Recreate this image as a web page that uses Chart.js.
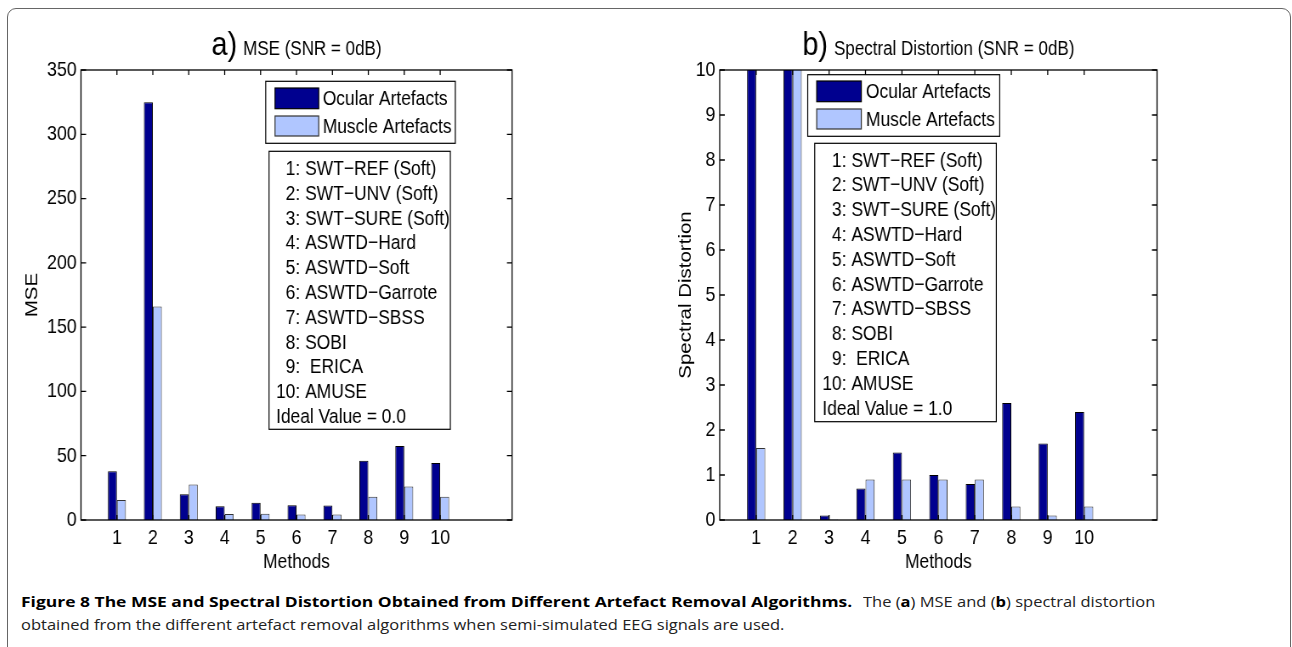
<!DOCTYPE html>
<html>
<head>
<meta charset="utf-8">
<script src="https://cdn.jsdelivr.net/npm/chart.js@4.4.0/dist/chart.umd.min.js"></script>
<style>
  body { margin: 0; background: #fff; width: 1292px; height: 647px; overflow: hidden; position: relative; }
  .frame { position: absolute; left: 7px; top: 8px; width: 1282px; height: 700px; border: 1.5px solid #666; border-radius: 9px; }
  .plot { position: absolute; top: 20px; height: 570px; transform: scaleX(0.85); transform-origin: 0 0; }
  #boxA { left: 10px; width: 741px; }
  #boxB { left: 650px; width: 752px; }
  .cap { position: absolute; font-family: "Open Sans", sans-serif; font-size: 15px; line-height: 20px; white-space: nowrap; transform-origin: 0 0; color: #222; }
  .cap b, b.cap { color: #000; }
</style>
</head>
<body>
<div class="frame"></div>
<div class="plot" id="boxA"><canvas id="mseChart"></canvas></div>
<div class="plot" id="boxB"><canvas id="sdChart"></canvas></div>
<b class="cap" id="capBold" style="left:21px;top:591px">Figure 8 The MSE and Spectral Distortion Obtained from Different Artefact Removal Algorithms.</b>
<div class="cap" id="capRest" style="left:863px;top:591px">The (<b>a</b>) MSE and (<b>b</b>) spectral distortion</div>
<div class="cap" id="cap2" style="left:21px;top:614px">obtained from the different artefact removal algorithms when semi-simulated EEG signals are used.</div>
<span class="cap" id="probe" style="left:0;top:-100px">obtained from the different artef</span>
<script>
// data
const categories = ["1", "2", "3", "4", "5", "6", "7", "8", "9", "10"];
const methodNames = [
    "SWT\u2212REF (Soft)",
    "SWT\u2212UNV (Soft)",
    "SWT\u2212SURE (Soft)",
    "ASWTD\u2212Hard",
    "ASWTD\u2212Soft",
    "ASWTD\u2212Garrote",
    "ASWTD\u2212SBSS",
    "SOBI",
    " ERICA",
    "AMUSE"
];
const seriesNames = ["Ocular Artefacts", "Muscle Artefacts"];
const mseOcular = [38, 325, 20, 10.6, 13.5, 11.4, 11.2, 46, 57.5, 44.3];
const mseMuscle = [15.5, 166, 27.7, 4.7, 4.9, 4.2, 4.2, 18, 26, 18];
const sdOcular = [11.5, 11, 0.1, 0.7, 1.5, 1.0, 0.8, 2.6, 1.7, 2.4];
const sdMuscle = [1.6, 10.8, 0.01, 0.9, 0.9, 0.9, 0.9, 0.3, 0.1, 0.3];
const mseTicks = [0, 50, 100, 150, 200, 250, 300, 350];
const sdTicks = [0, 1, 2, 3, 4, 5, 6, 7, 8, 9, 10];

const S = 0.85;
const FONT = '"Liberation Sans", Arial, Helvetica, sans-serif';
const DARK = "#00008F";
const LIGHT = "#B0C6FF";
Chart.defaults.font.family = FONT;
Chart.defaults.color = "#000";

const decor = {
    id: "decor",
    afterDraw(chart, args, o) {
        const ctx = chart.ctx;
        const a = chart.chartArea;
        const X = v => (v - o.x0) / S;
        const Y = v => v - 20;
        const xs = chart.scales.x, ys = chart.scales.y;
        ctx.save();

        // axes box + inward ticks
        ctx.strokeStyle = "#000";
        ctx.lineWidth = 1.3;
        ctx.strokeRect(a.left, a.top, a.right - a.left, a.bottom - a.top);
        ctx.beginPath();
        categories.forEach((c, i) => {
            const px = xs.getPixelForValue(i + 1);
            ctx.moveTo(px, a.bottom); ctx.lineTo(px, a.bottom - 5);
            ctx.moveTo(px, a.top); ctx.lineTo(px, a.top + 5);
        });
        ys.ticks.forEach(t => {
            const py = ys.getPixelForValue(t.value);
            ctx.moveTo(a.left, py); ctx.lineTo(a.left + 6, py);
            ctx.moveTo(a.right, py); ctx.lineTo(a.right - 6, py);
        });
        ctx.stroke();

        // title with big panel letter
        ctx.fillStyle = "#000";
        ctx.textBaseline = "alphabetic";
        ctx.textAlign = "left";
        const big = "34px " + FONT, small = "20px " + FONT;
        ctx.font = big;
        const w1 = ctx.measureText(o.letter).width;
        ctx.font = small;
        const w2 = ctx.measureText(o.title).width;
        const gap = 7;
        const tx = (a.left + a.right) / 2 - (w1 + gap + w2) / 2;
        ctx.font = big;
        ctx.fillText(o.letter, tx, Y(55));
        ctx.font = small;
        ctx.fillText(o.title, tx + w1 + gap, Y(55));

        // legend box
        const L = o.legend;
        ctx.lineWidth = 1.2;
        ctx.fillStyle = "#fff";
        ctx.fillRect(X(L.x1), Y(L.y1), X(L.x2) - X(L.x1), L.y2 - L.y1);
        ctx.strokeStyle = "#000";
        ctx.strokeRect(X(L.x1), Y(L.y1), X(L.x2) - X(L.x1), L.y2 - L.y1);
        ctx.font = "20.5px " + FONT;
        ctx.textBaseline = "middle";
        chart.data.datasets.forEach((ds, i) => {
            const r = L.rows[i];
            ctx.fillStyle = ds.backgroundColor;
            ctx.fillRect(X(L.sx1), Y(r[0]), X(L.sx2) - X(L.sx1), r[1] - r[0]);
            ctx.strokeStyle = ds.borderColor;
            ctx.strokeRect(X(L.sx1), Y(r[0]), X(L.sx2) - X(L.sx1), r[1] - r[0]);
            ctx.fillStyle = "#000";
            ctx.fillText(ds.label, X(L.tx), Y((r[0] + r[1]) / 2) + 1);
        });

        // method list box
        const B = o.list;
        ctx.fillStyle = "#fff";
        ctx.fillRect(X(B.x1), Y(B.y1), X(B.x2) - X(B.x1), B.y2 - B.y1);
        ctx.strokeStyle = "#000";
        ctx.strokeRect(X(B.x1), Y(B.y1), X(B.x2) - X(B.x1), B.y2 - B.y1);
        ctx.fillStyle = "#000";
        const digit = ctx.measureText("0").width;
        const lines = methodNames.map((n, i) => categories[i] + ": " + n).concat([o.ideal]);
        lines.forEach((s, i) => {
            const indent = i < 9 ? digit : 0;
            ctx.fillText(s, X(B.tx) + indent, Y(B.ly + i * 24.8) + 1);
        });
        ctx.restore();
    }
};

function makeChart(id, cfg) {
    const ctx = document.getElementById(id);
    return new Chart(ctx, {
        type: "bar",
        data: {
            datasets: [{
                label: seriesNames[0],
                data: cfg.ocular.map((v, i) => ({ x: i + 1, y: v })),
                backgroundColor: DARK,
                borderColor: "#000",
                borderWidth: 1,
            }, {
                label: seriesNames[1],
                data: cfg.muscle.map((v, i) => ({ x: i + 1, y: v })),
                backgroundColor: LIGHT,
                borderColor: "#333",
                borderWidth: 1,
            }],
        },
        options: {
            responsive: true,
            maintainAspectRatio: false,
            animation: false,
            categoryPercentage: 0.5,
            barPercentage: 1.0,
            layout: { padding: { top: 50, right: cfg.padRight, left: 0, bottom: 0 } },
            scales: {
                x: {
                    type: "linear",
                    offset: false,
                    min: 0,
                    max: 12,
                    grid: { display: false, drawTicks: false },
                    border: { display: false },
                    ticks: {
                        stepSize: 1,
                        autoSkip: false,
                        maxRotation: 0,
                        padding: 6,
                        font: { size: 21 },
                        callback: v => (v >= 1 && v <= categories.length) ? categories[v - 1] : "",
                    },
                    title: { display: true, text: "Methods", font: { size: 20.5 }, padding: { top: 0, bottom: 15 } },
                    afterFit: s => { s.height = 70; },
                },
                y: {
                    min: 0,
                    max: cfg.ticks[cfg.ticks.length - 1],
                    grid: { display: false, drawTicks: false },
                    border: { display: false },
                    afterBuildTicks: s => { s.ticks = cfg.ticks.map(v => ({ value: v })); },
                    ticks: { padding: 5, font: { size: 21 } },
                    title: { display: true, text: cfg.yTitle, font: { size: 20.5 }, padding: { top: cfg.yTitlePad, bottom: 0 } },
                    afterFit: s => { s.width = cfg.yWidth; },
                },
            },
            plugins: {
                legend: { display: false },
                tooltip: { enabled: false },
                decor: cfg.decor,
            },
        },
        plugins: [decor],
    });
}

makeChart("mseChart", {
    ocular: mseOcular,
    muscle: mseMuscle,
    ticks: mseTicks,
    yTitle: "MSE",
    yTitlePad: 14,
    yWidth: 83.5,
    padRight: 150.4,
    decor: {
        x0: 10,
        letter: "a)",
        title: "MSE (SNR = 0dB)",
        ideal: "Ideal Value = 0.0",
        legend: { x1: 265.7, x2: 455.3, y1: 81.3, y2: 143.3, sx1: 275, sx2: 318.7, rows: [[88, 108.7], [116, 136]], tx: 322.7 },
        list: { x1: 269, x2: 450.3, y1: 151.3, y2: 429.3, tx: 276, ly: 168.3 },
    },
});

makeChart("sdChart", {
    ocular: sdOcular,
    muscle: sdMuscle,
    ticks: sdTicks,
    yTitle: "Spectral Distortion",
    yTitlePad: 30,
    yWidth: 82,
    padRight: 155.5,
    decor: {
        x0: 650,
        letter: "b)",
        title: "Spectral Distortion (SNR = 0dB)",
        ideal: "Ideal Value = 1.0",
        legend: { x1: 807.7, x2: 999.7, y1: 74.7, y2: 136.3, sx1: 816.7, sx2: 861.3, rows: [[81, 101.7], [109, 129]], tx: 866 },
        list: { x1: 814.7, x2: 996.3, y1: 143.3, y2: 421.7, tx: 822.3, ly: 160 },
    },
});

// caption: one horizontal squeeze for the regular text, one for the bold lead-in
const probe = document.getElementById("probe");
const rest = document.getElementById("capRest");
const k = (278 / probe.offsetWidth + 262 / rest.offsetWidth) / 2;
probe.remove();
rest.style.transform = "scaleX(" + k + ")";
document.getElementById("cap2").style.transform = "scaleX(" + k + ")";
const bold = document.getElementById("capBold");
bold.style.transform = "scaleX(" + (831 / bold.offsetWidth) + ")";
</script>
</body>
</html>
